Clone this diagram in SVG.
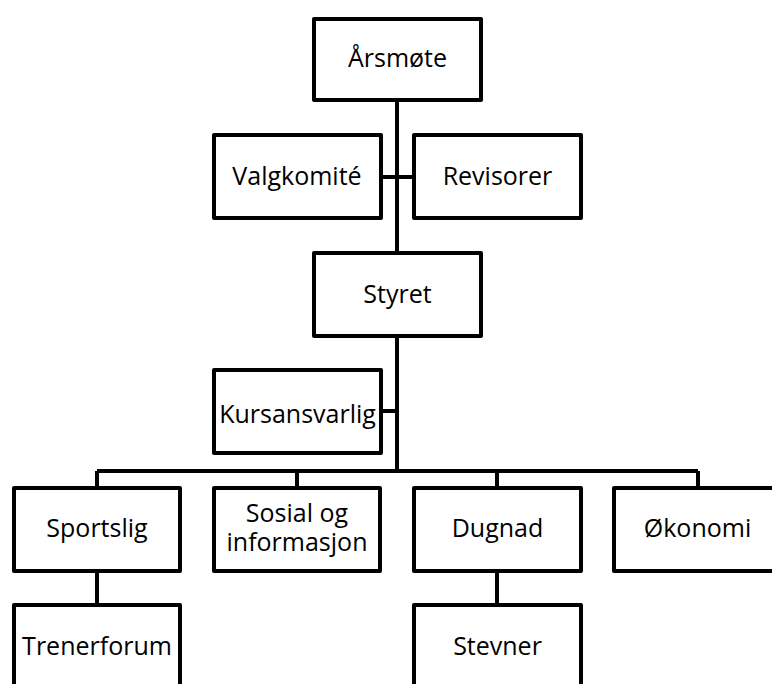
<svg xmlns="http://www.w3.org/2000/svg" width="772" height="684" viewBox="0 0 772 684">
<style>
.box{fill:#fff;stroke:#000;stroke-width:4;stroke-linejoin:round}
.lbl{font-family:"Open Sans","Liberation Sans",sans-serif;font-size:25px;fill:#000;text-anchor:middle}
.con{fill:none;stroke:#000;stroke-width:4}
</style>
<rect width="772" height="684" fill="#fff"/>
<g id="connectors">
<path class="con" d="M397 100V253M397 336V471M381 177H414M381 411H397M97 471H698M97 471V488M297 471V488M497 471V488M698 471V488M97 571V605M497 571V605"/>
</g>
<g id="arsmote"><rect class="box" x="314" y="19" width="167" height="81"/><text class="lbl" x="397.5" y="67">Årsmøte</text></g>
<g id="valgkomite"><rect class="box" x="214" y="135" width="167" height="83"/><text class="lbl" x="297" y="185">Valgkomité</text></g>
<g id="revisorer"><rect class="box" x="414" y="135" width="167" height="83"/><text class="lbl" x="497.5" y="185">Revisorer</text></g>
<g id="styret"><rect class="box" x="314" y="253" width="167" height="83"/><text class="lbl" x="397.5" y="303">Styret</text></g>
<g id="kursansvarlig"><rect class="box" x="214" y="370" width="167" height="83"/><text class="lbl" x="297.5" y="423">Kursansvarlig</text></g>
<g id="sportslig"><rect class="box" x="14" y="488" width="166" height="83"/><text class="lbl" x="97" y="537">Sportslig</text></g>
<g id="sosial"><rect class="box" x="214" y="488" width="166" height="83"/><text class="lbl" x="297" y="522">Sosial og</text><text class="lbl" x="297" y="551">informasjon</text></g>
<g id="dugnad"><rect class="box" x="414" y="488" width="167" height="83"/><text class="lbl" x="497.5" y="537">Dugnad</text></g>
<g id="okonomi"><rect class="box" x="614" y="488" width="167" height="83"/><text class="lbl" x="697.5" y="537">Økonomi</text></g>
<g id="trenerforum"><rect class="box" x="14" y="605" width="166" height="83"/><text class="lbl" x="97" y="655">Trenerforum</text></g>
<g id="stevner"><rect class="box" x="414" y="605" width="167" height="83"/><text class="lbl" x="497.5" y="655">Stevner</text></g>
</svg>
